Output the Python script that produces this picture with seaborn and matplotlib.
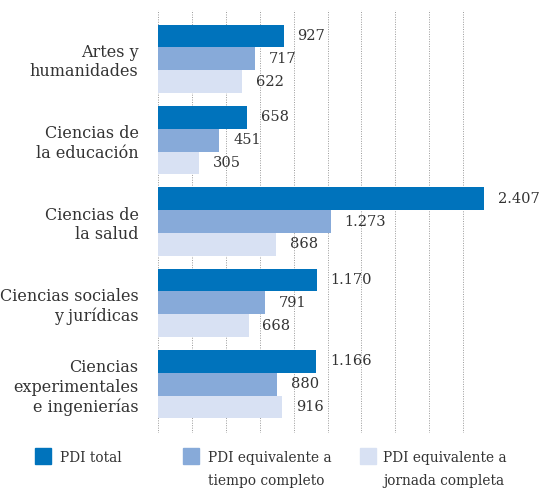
import seaborn as sns
import matplotlib.pyplot as plt
import pandas as pd
from matplotlib.patches import Rectangle

# datos
areas = ["Artes y\nhumanidades", "Ciencias de\nla educación", "Ciencias de\nla salud",
         "Ciencias sociales\ny jurídicas", "Ciencias\nexperimentales\ne ingenierías"]
series = ["PDI total", "PDI equivalente a\ntiempo completo", "PDI equivalente a\njornada completa"]
pdi_total = [927, 658, 2407, 1170, 1166]
pdi_tiempo_completo = [717, 451, 1273, 791, 880]
pdi_jornada_completa = [622, 305, 868, 668, 916]
colores = ["#0073bc", "#87aad9", "#d8e1f3"]

df = pd.DataFrame({
    "area": areas * 3,
    "serie": [series[0]] * 5 + [series[1]] * 5 + [series[2]] * 5,
    "valor": pdi_total + pdi_tiempo_completo + pdi_jornada_completa,
})

sns.set_style("white")
plt.rcParams["font.family"] = ["DejaVu Serif"]
texto = "#333333"

fig = plt.figure(figsize=(5.4, 4.88), dpi=100)
ax = fig.add_axes([0.2926, 0.1127, 0.6278, 0.8668])

sns.barplot(data=df, x="valor", y="area", hue="serie", orient="h",
            palette=colores, width=0.84, gap=0, saturation=1,
            linewidth=0, edgecolor="none",
            legend=False, ax=ax, zorder=2)

# etiquetas con separador de miles
for cont, vals in zip(ax.containers, [pdi_total, pdi_tiempo_completo, pdi_jornada_completa]):
    etiquetas = [f"{v:,}".replace(",", ".") for v in vals]
    ax.bar_label(cont, labels=etiquetas, padding=10, fontsize=10.5, color=texto, clip_on=False)

ax.set_xlim(0, 2500)
ax.set_ylim(4.6, -0.6)
ax.set_xticks(range(0, 2501, 250))
ax.set_xticklabels([])
ax.grid(axis="x", linestyle=(0, (1, 1.5)), color="#999999", linewidth=0.7, zorder=0)
ax.grid(axis="y", visible=False)
ax.tick_params(axis="both", length=0)
ax.tick_params(axis="y", pad=14, labelsize=11.5, labelcolor=texto)
ax.set_xlabel("")
ax.set_ylabel("")
sns.despine(ax=ax, left=True, bottom=True)

# leyenda manual
W, H = 540, 488
for x_cuadro, x_texto, serie, color in zip([35, 183, 360], [60, 208, 383], series, colores):
    fig.add_artist(Rectangle((x_cuadro / W, 1 - 464 / H), 16 / W, 16 / H,
                             transform=fig.transFigure, color=color))
    fig.text(x_texto / W, 1 - 451 / H, serie, fontsize=9.9, color=texto,
             va="top", ha="left", linespacing=1.8)

fig.savefig("out.png", dpi=100)
